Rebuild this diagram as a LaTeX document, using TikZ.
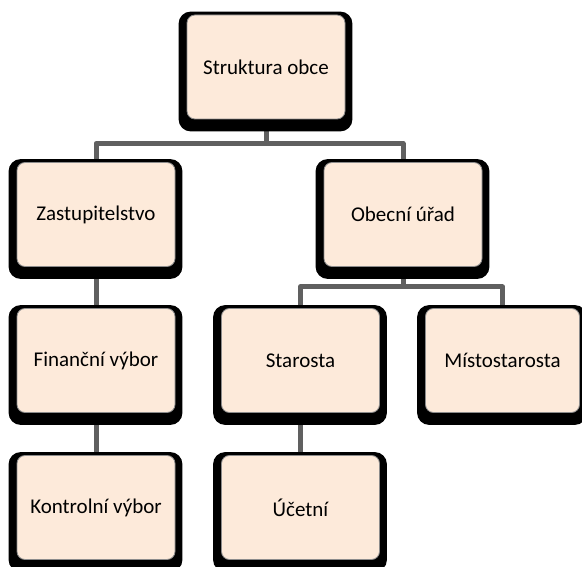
\documentclass[tikz,border=0pt]{standalone}
\usepackage{fontspec}
\setmainfont{Carlito}
\usetikzlibrary{calc,backgrounds}
\definecolor{peach}{RGB}{253,234,218}
\definecolor{linkgray}{RGB}{96,96,96}
\tikzset{
  orgbox/.style={fill=peach, draw=black!45, line width=0.8pt,
    rounded corners=8pt, minimum width=158pt, minimum height=104pt,
    inner sep=0pt, font=\fontsize{21}{25}\selectfont},
  backing/.style={fill=black, rounded corners=12pt},
  conn/.style={draw=linkgray, line width=5pt, line join=round}
}
\begin{document}
\begin{tikzpicture}[x=1pt,y=-1pt]
  \useasboundingbox (0,0) rectangle (582,567);
  \clip (0,0) rectangle (582,567);

  % boxes of the organisation chart
  \node[orgbox] (obec)    at (266,67)     {Struktura obce};
  \node[orgbox] (zast)    at (96,214.5)   {Zastupitelstvo};
  \node[orgbox] (urad)    at (403,214.5)  {Obecní úřad};
  \node[orgbox] (fin)     at (96,360.5)   {Finanční výbor};
  \node[orgbox] (star)    at (300.5,360.5){Starosta};
  \node[orgbox, minimum width=154pt] (misto) at (502.5,360.5){Místostarosta};
  \node[orgbox] (kontr)   at (96,507.5)   {Kontrolní výbor};
  \node[orgbox] (ucet)    at (300.5,507.5){Účetní};

  \begin{scope}[on background layer]
    % connectors
    \draw[conn] (obec.south) -- ++(0,24) -| (zast.north);
    \draw[conn] (obec.south) -- ++(0,24) -| (urad.north);
    \draw[conn] (urad.south) -- ++(0,20) -| (star.north);
    \draw[conn] (urad.south) -- ++(0,20) -| (misto.north);
    \draw[conn] (zast.south) -- (fin.north);
    \draw[conn] (fin.south) -- (kontr.north);
    \draw[conn] (star.south) -- (ucet.north);
    % heavy black frames behind each box
    \foreach \n in {obec,zast,urad,fin,star,misto,kontr,ucet}
      \fill[backing] ($(\n.north west)+(-8,-3)$) rectangle ($(\n.south east)+(7,12)$);
  \end{scope}
\end{tikzpicture}
\end{document}
